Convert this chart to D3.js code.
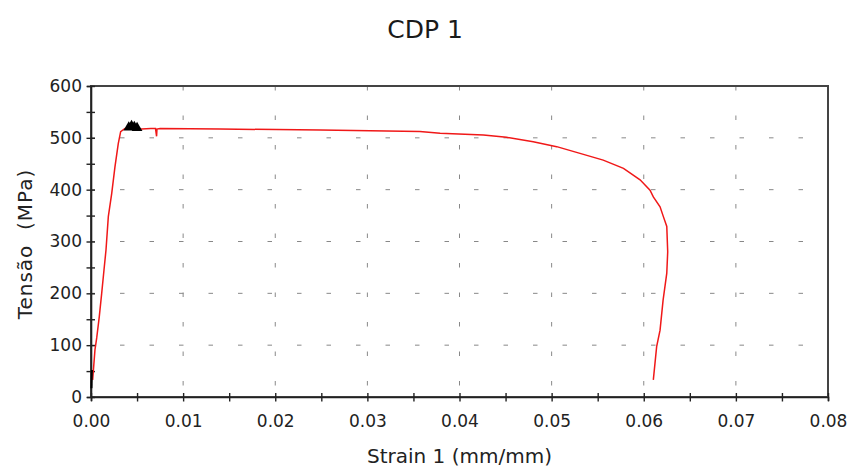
<!DOCTYPE html>
<html>
<head>
<meta charset="utf-8">
<script src="https://cdn.jsdelivr.net/npm/d3@7"></script>
<style>
  body { margin: 0; background: #fff; }
  svg { display: block; font-family: "DejaVu Sans", Verdana, sans-serif; }
</style>
</head>
<body>
<div class="chart"></div>
<script>
// CDP 1 - stress/strain curve

const title = 'CDP 1';
const xLabel = 'Strain 1 (mm/mm)';
const yLabel = 'Tensão  (MPa)';

const xTicks = [0, 0.01, 0.02, 0.03, 0.04, 0.05, 0.06, 0.07, 0.08];
const yTicks = [0, 100, 200, 300, 400, 500, 600];

// red test curve (strain mm/mm, stress MPa)
const strain = [0.00018, 0.00043, 0.00062, 0.0009, 0.00116, 0.00141, 0.00163, 0.00188, 0.00225,
    0.0026, 0.00296, 0.00322, 0.00369, 0.0045, 0.0055, 0.0065, 0.0070, 0.00712, 0.00716, 0.0075,
    0.014, 0.0249, 0.0357, 0.0379, 0.0426, 0.0451, 0.048, 0.05055, 0.05308, 0.0556, 0.0578,
    0.0596, 0.06068, 0.06104, 0.06177, 0.06213, 0.0625, 0.0626, 0.0625, 0.0621, 0.06177, 0.0614, 0.06104];
const stress = [33, 91, 114, 155, 200, 245, 284, 348, 393,
    444, 489, 512, 518, 518, 517, 518, 518, 503, 517, 518,
    517, 515, 512, 509, 505.5, 501, 492.6, 483, 470, 457, 441,
    419, 399, 386, 367, 348, 329, 280, 239, 187, 129, 97, 33];

// short black segment at the origin
const blackStrain = [0.00005, 0.0001];
const blackStress = [17, 52];

// peak markers
const peakStrain = [0.0041, 0.0044, 0.0047, 0.0050];
const peakStress = [520, 523, 521, 519];

const width = 851, height = 468;
const margin = { top: 86, right: 23, bottom: 71, left: 91 };
const chartWidth = width - margin.left - margin.right;
const chartHeight = height - margin.top - margin.bottom;

const svg = d3.select('.chart').append('svg')
    .attr('width', width)
    .attr('height', height);

const g = svg.append('g')
    .attr('transform', `translate(${margin.left},${margin.top})`);

const xScale = d3.scaleLinear().domain([0, 0.08]).range([0, chartWidth]);
const yScale = d3.scaleLinear().domain([0, 600]).range([chartHeight, 0]);

// dashed grid
g.append('g').selectAll('line')
    .data(xTicks.slice(1, -1))
    .enter().append('line')
    .attr('x1', d => xScale(d)).attr('x2', d => xScale(d))
    .attr('y1', 0).attr('y2', chartHeight)
    .attr('stroke', '#888')
    .attr('stroke-width', 1)
    .attr('stroke-dasharray', '4.5,25');

g.append('g').selectAll('line')
    .data(yTicks.slice(1, -1))
    .enter().append('line')
    .attr('x1', 0).attr('x2', chartWidth)
    .attr('y1', d => yScale(d)).attr('y2', d => yScale(d))
    .attr('stroke', '#888')
    .attr('stroke-width', 1)
    .attr('stroke-dasharray', '4.5,25')
    .attr('stroke-dashoffset', 0.5);

// frame
g.append('rect')
    .attr('x', 0).attr('y', 0)
    .attr('width', chartWidth).attr('height', chartHeight)
    .attr('fill', 'none')
    .attr('stroke', '#444')
    .attr('stroke-width', 2);

// x axis
const xAxis = g.append('g')
    .attr('transform', `translate(0,${chartHeight})`)
    .call(d3.axisBottom(xScale)
        .tickValues(d3.range(0, 17).map(i => i * 0.005))
        .tickSize(4)
        .tickPadding(14)
        .tickFormat((d, i) => i % 2 === 0 ? d3.format('.2f')(d) : ''));

// y axis
const yAxis = g.append('g')
    .call(d3.axisLeft(yScale)
        .tickValues(d3.range(0, 13).map(i => i * 50))
        .tickSize(4)
        .tickPadding(5)
        .tickFormat((d, i) => i % 2 === 0 ? d : ''));

xAxis.selectAll('.tick line').attr('y1', -4).attr('y2', 4.5);
yAxis.selectAll('.tick line').attr('x1', 4).attr('x2', -4.5);

[xAxis, yAxis].forEach(a => {
    a.select('.domain').attr('stroke', '#222').attr('stroke-width', 1.6);
    a.selectAll('.tick line').attr('stroke', '#222').attr('stroke-width', 1.4);
    a.selectAll('.tick text')
        .attr('fill', '#222')
        .attr('font-size', '17px')
        .attr('font-family', '"DejaVu Sans", Verdana, sans-serif');
});

// curve
const line = d3.line()
    .x(d => xScale(d[0]))
    .y(d => yScale(d[1]));

g.append('path')
    .datum(strain.map((s, i) => [s, stress[i]]))
    .attr('d', line)
    .attr('fill', 'none')
    .attr('stroke', '#f01818')
    .attr('stroke-width', 1.5);

g.append('path')
    .datum(blackStrain.map((s, i) => [s, blackStress[i]]))
    .attr('d', line)
    .attr('fill', 'none')
    .attr('stroke', '#000')
    .attr('stroke-width', 2);

g.selectAll('.peak')
    .data(peakStrain.map((s, i) => [s, peakStress[i]]))
    .enter().append('path')
    .attr('class', 'peak')
    .attr('transform', d => `translate(${xScale(d[0])},${yScale(d[1])})`)
    .attr('d', d3.symbol().type(d3.symbolTriangle).size(50))
    .attr('fill', '#000');

// titles
svg.append('text')
    .attr('x', 425)
    .attr('y', 38)
    .attr('text-anchor', 'middle')
    .attr('font-size', '25px')
    .attr('fill', '#1a1a1a')
    .text(title);

svg.append('text')
    .attr('x', margin.left + chartWidth / 2)
    .attr('y', 463)
    .attr('text-anchor', 'middle')
    .attr('font-size', '20px')
    .attr('fill', '#222')
    .text(xLabel);

svg.append('text')
    .attr('transform', 'translate(32,244) rotate(-90)')
    .attr('text-anchor', 'middle')
    .attr('font-size', '20px')
    .attr('letter-spacing', '1px')
    .attr('fill', '#222')
    .style('white-space', 'pre')
    .text(yLabel);
</script>
</body>
</html>
